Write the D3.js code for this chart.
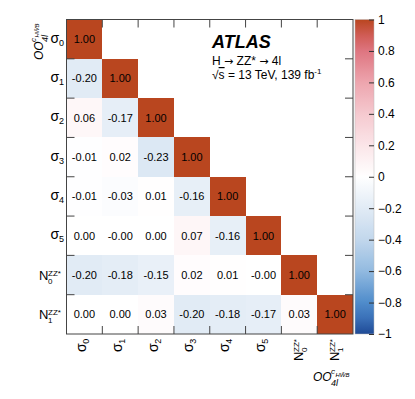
<!DOCTYPE html>
<html><head><meta charset="utf-8">
<script src="https://cdn.jsdelivr.net/npm/d3@7"></script>
<style>
body{margin:0;background:#fff}
svg{display:block}
text{font-family:"Liberation Sans",Arial,Helvetica,sans-serif;fill:#000}
</style>
</head><body>
<svg id="chart" width="415" height="399"></svg>
<script>
// ---- data ----
const labelBase = ["σ","σ","σ","σ","σ","σ","N","N"];
const labelSub  = ["0","1","2","3","4","5","0","1"];
const labelSup  = ["","","","","","","ZZ*","ZZ*"];
const corr = [
  [1.00],
  [-0.20, 1.00],
  [0.06, -0.17, 1.00],
  [-0.01, 0.02, -0.23, 1.00],
  [-0.01, -0.03, 0.01, -0.16, 1.00],
  [0.00, -0.00, 0.00, 0.07, -0.16, 1.00],
  [-0.20, -0.18, -0.15, 0.02, 0.01, -0.00, 1.00],
  [0.00, 0.00, 0.03, -0.20, -0.18, -0.17, 0.03, 1.00]
];
const cbTicks = [-1,-0.8,-0.6,-0.4,-0.2,0,0.2,0.4,0.6,0.8,1];
const cbTickLabels = ["−1","−0.8","−0.6","−0.4","−0.2","0","0.2","0.4","0.6","0.8","1"];
const paletteValues = [-1,-0.9,-0.8,-0.6,-0.4,-0.2,0,0.2,0.4,0.6,0.8,0.9,1];
const paletteColors = ["#1f4a96","#3a70b8","#4f8ccb","#92bae0","#c2d7ec","#e1ebf5","#ffffff",
                       "#fbe5e8","#f5c9cf","#eda5ae","#de7580","#d05c55","#b9461f"];

// ---- layout ----
const svg = d3.select("#chart");
const L = 66.5, R = 353, T = 19.5, B = 334;
const n = labelBase.length;
const x = d3.scaleBand().domain(d3.range(n)).range([L, R]).padding(0);
const y = d3.scaleBand().domain(d3.range(n)).range([T, B]).padding(0);
const color = d3.scaleLinear().domain(paletteValues).range(paletteColors).interpolate(d3.interpolateRgb).clamp(true);
const fmt = v => ((v < 0 || Object.is(v, -0)) ? "-" : "") + Math.abs(v).toFixed(2);

// cells
const cells = [];
corr.forEach((row, i) => row.forEach((v, j) => cells.push({i, j, v})));
const gC = svg.append("g");
gC.selectAll("rect").data(cells).join("rect")
  .attr("x", d => x(d.j)).attr("y", d => y(d.i))
  .attr("width", x.bandwidth()).attr("height", y.bandwidth())
  .attr("fill", d => color(d.v)).attr("shape-rendering", "crispEdges");
gC.selectAll("text").data(cells).join("text")
  .attr("x", d => x(d.j) + x.bandwidth() / 2)
  .attr("y", d => y(d.i) + y.bandwidth() / 2 + 4)
  .attr("text-anchor", "middle").attr("font-size", 11)
  .text(d => fmt(d.v));

// frame and ticks
const fr = svg.append("g").attr("stroke", "#444").attr("stroke-width", 1).attr("fill", "none");
fr.append("rect").attr("x", L).attr("y", T).attr("width", R - L).attr("height", B - T);
const tl = 8;
d3.range(1, n).forEach(k => {
  const xs = x(k), ys = y(k);
  fr.append("line").attr("x1", xs).attr("x2", xs).attr("y1", B).attr("y2", B - tl);
  fr.append("line").attr("x1", xs).attr("x2", xs).attr("y1", T).attr("y2", T + tl);
  fr.append("line").attr("y1", ys).attr("y2", ys).attr("x1", L).attr("x2", L + tl);
  fr.append("line").attr("y1", ys).attr("y2", ys).attr("x1", R).attr("x2", R - tl);
});

// y labels
d3.range(n).forEach(i => {
  const cy = y(i) + y.bandwidth() / 2;
  if (labelSup[i]) {
    svg.append("text").attr("x", 39).attr("y", cy + 5).attr("font-size", 13).text(labelBase[i]);
    svg.append("text").attr("x", 48).attr("y", cy + 0.5).attr("font-size", 8).text(labelSup[i]);
    svg.append("text").attr("x", 48).attr("y", cy + 8.5).attr("font-size", 8).text(labelSub[i]);
  } else {
    svg.append("text").attr("x", 50.5).attr("y", cy + 3.5).attr("font-size", 14).text(labelBase[i]);
    svg.append("text").attr("x", 59).attr("y", cy + 6.5).attr("font-size", 9).text(labelSub[i]);
  }
});

// x labels (rotated)
d3.range(n).forEach(j => {
  const cx = x(j) + x.bandwidth() / 2;
  if (labelSup[j]) {
    const g = svg.append("g").attr("transform", `translate(${cx + 4},361) rotate(-90)`);
    g.append("text").attr("x", 0).attr("y", 0).attr("font-size", 13).text(labelBase[j]);
    g.append("text").attr("x", 9).attr("y", -4.5).attr("font-size", 8).text(labelSup[j]);
    g.append("text").attr("x", 9).attr("y", 3.5).attr("font-size", 8).text(labelSub[j]);
  } else {
    const g = svg.append("g").attr("transform", `translate(${cx + 1.5},352) rotate(-90)`);
    g.append("text").attr("x", 0).attr("y", 0).attr("font-size", 14).text(labelBase[j]);
    g.append("text").attr("x", 8.3).attr("y", 3).attr("font-size", 9).text(labelSub[j]);
  }
});

// axis titles OO_{4l}^{c_{HWB}}
function axisTitle(g) {
  g.append("text").attr("x", 0).attr("y", 0).attr("font-size", 12).attr("font-style", "italic").text("OO");
  g.append("text").attr("x", 18).attr("y", 5).attr("font-size", 9).attr("font-style", "italic").text("4l");
  g.append("text").attr("x", 18).attr("y", -7).attr("font-size", 8).attr("font-style", "italic").text("c");
  g.append("text").attr("x", 22.5).attr("y", -4.5).attr("font-size", 6).attr("font-style", "italic").text("HW\u0303B");
}
axisTitle(svg.append("g").attr("transform", "translate(313,381)"));
axisTitle(svg.append("g").attr("transform", "translate(43,60) rotate(-90)"));

// colour bar
const cbX = 355, cbW = 19;
const cb = d3.scaleLinear().domain([-1, 1]).range([B, T]);
const grad = svg.append("defs").append("linearGradient").attr("id", "cbg")
  .attr("x1", 0).attr("y1", 1).attr("x2", 0).attr("y2", 0);
d3.range(0, 101).forEach(k => {
  const v = -1 + 2 * k / 100;
  grad.append("stop").attr("offset", k / 100).attr("stop-color", color(v));
});
svg.append("rect").attr("x", cbX).attr("y", T).attr("width", cbW).attr("height", B - T)
  .attr("fill", "url(#cbg)").attr("stroke", "#bbb").attr("stroke-width", 0.5);
const ax = svg.append("g").attr("transform", `translate(${cbX + cbW},0)`)
  .call(d3.axisRight(cb).tickValues(cbTicks).tickFormat((d, i) => cbTickLabels[i])
    .tickSizeInner(-5).tickSizeOuter(0).tickPadding(4));
ax.select(".domain").remove();
ax.selectAll("line").attr("stroke", "#333");
ax.selectAll("text").attr("font-size", 12).attr("font-family", "Liberation Sans, Arial, sans-serif").attr("fill", "#000");

// ATLAS label
svg.append("text").attr("x", 212).attr("y", 48).attr("font-size", 18)
  .attr("font-weight", "bold").attr("font-style", "italic").text("ATLAS");
const t2 = svg.append("text").attr("x", 212).attr("y", 65).attr("font-size", 12);
t2.append("tspan").text("H ");
t2.append("tspan").attr("font-family", "DejaVu Sans").attr("font-size", 11).text("→");
t2.append("tspan").text(" ZZ* ");
t2.append("tspan").attr("font-family", "DejaVu Sans").attr("font-size", 11).text("→");
t2.append("tspan").text(" 4l");
const t3 = svg.append("text").attr("x", 212).attr("y", 79).attr("font-size", 12);
t3.append("tspan").text("√");
t3.append("tspan").style("text-decoration", "overline").text("s");
t3.append("tspan").text(" = 13 TeV, 139 fb");
t3.append("tspan").attr("font-size", 8).attr("dy", -5).text("-1");
</script>
</body></html>
